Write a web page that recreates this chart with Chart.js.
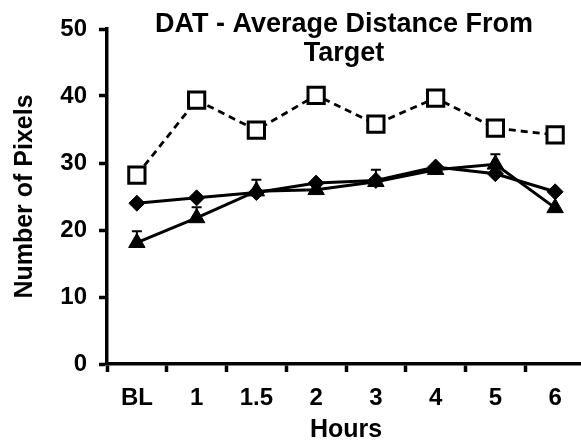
<!DOCTYPE html>
<html>
<head>
<meta charset="utf-8">
<script src="https://cdn.jsdelivr.net/npm/chart.js@4"></script>
<style>
html,body{margin:0;padding:0;overflow:hidden;background:#fff;}
#wrap{width:585px;height:441px;position:relative;}
</style>
</head>
<body>
<div id="wrap"><canvas id="c"></canvas></div>
<script>
const categories = ['BL', '1', '1.5', '2', '3', '4', '5', '6'];
const squareSeries = [28.2, 39.4, 34.9, 40.1, 35.8, 39.7, 35.2, 34.2];
const diamondSeries = [24.0, 24.8, 25.6, 27.0, 27.4, 29.4, 28.4, 25.7];
const triangleSeries = [18.1, 21.8, 25.8, 26.0, 27.2, 29.0, 29.8, 23.3];
const triangleErr = [1.7, 1.6, 1.7, 0, 1.8, 0, 1.5, 0];
const yTicks = [0, 10, 20, 30, 40, 50];
const titleLines = ['DAT - Average Distance From', 'Target'];
const yTitle = 'Number of Pixels';
const xTitle = 'Hours';

const FONT = '"Liberation Sans", Arial, sans-serif';

const titlePlugin = {
  id: 'innerTitle',
  afterDraw(chart) {
    const ctx = chart.ctx;
    const a = chart.chartArea;
    ctx.save();
    ctx.font = 'bold 27px ' + FONT;
    ctx.fillStyle = '#000';
    ctx.textAlign = 'center';
    ctx.textBaseline = 'middle';
    const cx = (a.left + a.right) / 2 - 2;
    titleLines.forEach((t, i) => ctx.fillText(t, cx, 25 + i * 29));
    ctx.restore();
  }
};

const errPlugin = {
  id: 'errBars',
  afterDatasetsDraw(chart) {
    const ctx = chart.ctx;
    const meta = chart.getDatasetMeta(2);
    const ys = chart.scales.y;
    ctx.save();
    ctx.strokeStyle = '#000';
    ctx.lineWidth = 2;
    meta.data.forEach((pt, i) => {
      const e = triangleErr[i];
      if (!e) return;
      const y0 = ys.getPixelForValue(triangleSeries[i]);
      const y1 = ys.getPixelForValue(triangleSeries[i] + e);
      ctx.beginPath();
      ctx.moveTo(pt.x, y0);
      ctx.lineTo(pt.x, y1);
      ctx.moveTo(pt.x - 5, y1);
      ctx.lineTo(pt.x + 5, y1);
      ctx.stroke();
    });
    ctx.restore();
  }
};

const tickFont = { family: FONT, size: 24, weight: 'bold' };
const axisTitleFont = { family: FONT, size: 25, weight: 'bold' };

new Chart(document.getElementById('c'), {
  type: 'line',
  data: {
    labels: categories,
    datasets: [
      {
        data: squareSeries,
        borderColor: '#000',
        borderWidth: 2.8,
        borderDash: [7, 5],
        pointStyle: 'rect',
        pointRadius: 11.5,
        pointBackgroundColor: '#fff',
        pointBorderColor: '#000',
        pointBorderWidth: 3,
        fill: false,
        tension: 0
      },
      {
        data: diamondSeries,
        borderColor: '#000',
        borderWidth: 3,
        pointStyle: 'rectRot',
        pointRadius: 8,
        pointBackgroundColor: '#000',
        pointBorderColor: '#000',
        pointBorderWidth: 1,
        fill: false,
        tension: 0
      },
      {
        data: triangleSeries,
        borderColor: '#000',
        borderWidth: 3,
        pointStyle: 'triangle',
        pointRadius: 9.5,
        pointBackgroundColor: '#000',
        pointBorderColor: '#000',
        pointBorderWidth: 1,
        fill: false,
        tension: 0
      }
    ]
  },
  options: {
    responsive: true,
    maintainAspectRatio: false,
    animation: false,
    layout: { autoPadding: false, padding: { top: 29, right: 0, bottom: 0, left: 0 } },
    plugins: {
      legend: { display: false },
      tooltip: { enabled: false },
      title: { display: false }
    },
    scales: {
      x: {
        type: 'category',
        offset: true,
        grid: { offset: true, drawOnChartArea: false, drawTicks: true, tickLength: 8, tickWidth: 3.5, tickColor: '#000', color: '#000' },
        border: { display: true, width: 3.5, color: '#000' },
        ticks: { font: tickFont, color: '#000', padding: 12, maxRotation: 0, autoSkip: false },
        title: { display: true, text: xTitle, font: axisTitleFont, color: '#000', padding: { top: 0, bottom: -4 } },
        afterFit(s) { s.height = 77; s.paddingLeft = 0; s.paddingRight = 0; }
      },
      y: {
        min: 0,
        max: 50,
        afterBuildTicks(s) { s.ticks = yTicks.map(v => ({ value: v })); },
        grid: { drawOnChartArea: false, drawTicks: true, tickLength: 8, tickWidth: 3.5, tickColor: '#000', color: '#000' },
        border: { display: true, width: 3.5, color: '#000' },
        ticks: { font: tickFont, color: '#000', padding: 12 },
        title: { display: true, text: yTitle, font: axisTitleFont, color: '#000', padding: { top: 10, bottom: 0 } },
        afterFit(s) { s.width = 107; s.paddingTop = 0; s.paddingBottom = 0; }
      }
    }
  },
  plugins: [titlePlugin, errPlugin]
});
</script>
</body>
</html>
